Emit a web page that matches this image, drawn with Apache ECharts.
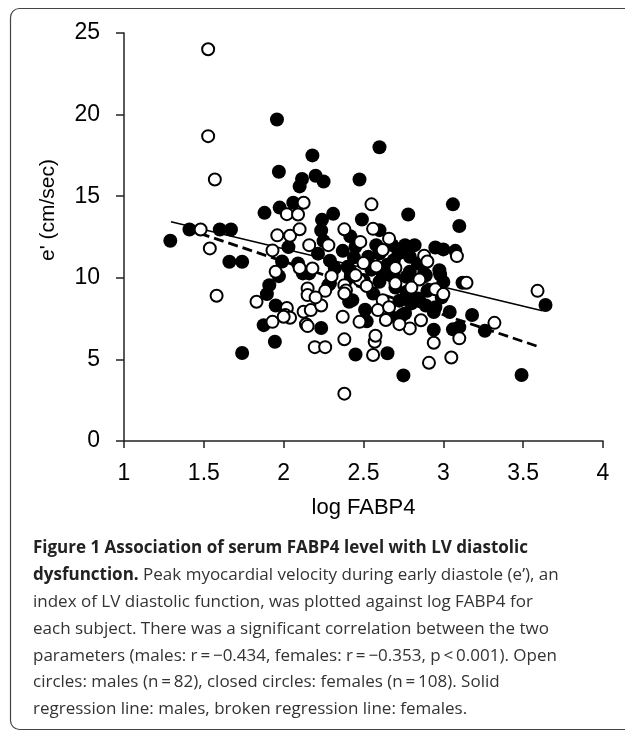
<!DOCTYPE html>
<html>
<head>
<meta charset="utf-8">
<script src="https://cdn.jsdelivr.net/npm/echarts@6/dist/echarts.min.js"></script>
<style>html,body{margin:0;padding:0;background:#fff}#c{width:625px;height:731px}</style>
</head>
<body>
<div id="c"></div>
<script>
// Tick labels
const xTicks = [1, 1.5, 2, 2.5, 3, 3.5, 4];
const yTicks = [0, 5, 10, 15, 20, 25];

// Open circles: males [log FABP4, e']
const openCircles = [
[1.527,24.0],[1.527,18.68],[1.569,16.02],[2.125,14.6],[2.02,13.9],[2.09,13.88],[1.48,12.96],[1.5375,11.8],[1.58,8.9],
[1.96,12.6],[2.04,12.58],[2.1,12.97],[2.16,12.0],[2.28,12.0],[2.38,12.97],[1.93,11.68],[2.18,10.57],[1.95,10.37],
[2.15,9.35],[2.15,8.94],[2.38,9.55],[2.39,9.22],[1.83,8.53],[2.02,8.15],[2.01,7.72],[2.04,7.55],[2.0,7.61],[2.125,7.92],
[2.17,8.02],[2.235,8.3],[2.37,7.61],[1.93,7.3],[2.14,7.15],[2.15,7.04],[2.195,5.75],[2.26,5.75],[2.38,6.23],[2.38,2.9],
[2.475,7.3],[2.55,14.5],[2.56,13.0],[2.66,12.4],[3.085,11.33],[2.88,11.35],[3.145,9.7],[2.38,9.04],[2.475,9.86],[2.62,8.63],
[2.7,9.66],[3.32,7.24],[3.1,6.29],[2.94,6.02],[3.05,5.12],[2.91,4.79],[2.56,5.27],[2.57,6.08],[2.575,6.45],[2.59,8.02],
[2.64,7.41],[2.79,6.9],[3.59,9.2],[2.725,7.16],
[2.45,10.16],[2.58,10.7],[2.5,10.9],[2.7,10.6],[2.85,9.9],[2.95,9.3],[2.3,10.1],[2.26,9.2],[2.52,9.5],[2.66,8.2],
[2.8,9.4],[2.86,7.4],[2.1,10.6],[2.62,11.7],[2.9,11.0],[3.0,9.0],[2.2,8.8],[2.48,12.2]
];

// Closed circles: females [log FABP4, e']
const closedCircles = [
[1.29,12.27],[1.41,12.96],[1.60,12.96],[1.67,12.96],[1.66,10.98],[1.74,10.98],[1.74,5.39],
[1.88,13.98],[1.975,14.3],[2.06,14.6],[1.958,19.7],[2.18,17.5],[1.97,16.5],[2.115,16.05],[2.2,16.25],[2.25,15.9],[2.1,15.6],
[2.24,13.55],[2.31,13.92],[2.235,12.9],[2.25,12.25],[2.417,12.55],[2.03,11.88],[2.215,11.48],[2.37,11.65],[2.44,11.25],
[1.99,11.0],[2.09,10.88],[2.29,11.05],[2.32,10.6],[1.97,10.1],[2.12,10.27],[2.16,10.27],[2.42,10.37],
[1.91,9.55],[1.895,9.0],[2.28,9.55],[1.95,8.3],[1.875,7.1],[2.235,6.92],[1.945,6.08],[2.45,5.3],[2.29,9.66],[2.43,8.63],
[2.6,18.0],[2.475,16.02],[3.06,14.5],[2.78,13.88],[3.1,13.17],[2.49,13.57],[2.6,12.92],
[2.58,12.0],[2.68,12.0],[2.76,12.0],[2.82,12.0],[2.95,11.86],[3.0,11.74],[3.075,11.65],[2.45,11.9],[2.53,11.29],[2.6,11.49],
[2.69,11.08],[2.79,11.29],[2.84,10.88],[2.975,10.47],[2.98,10.2],[3.0,9.75],[3.12,9.7],[2.89,10.16],[2.79,10.37],[2.77,10.06],
[2.69,10.06],[2.6,9.76],[2.56,9.04],[2.5,9.86],[2.42,10.06],[2.4,10.67],[2.77,9.14],[2.725,8.6],[2.8,8.43],[2.85,8.6],
[2.89,8.3],[2.95,8.2],[2.99,8.8],[3.04,7.9],[3.18,7.72],[3.26,6.75],[2.94,6.82],[3.06,6.84],[3.1,6.98],[2.75,4.02],[3.49,4.04],
[2.65,5.38],[2.51,8.04],[2.52,7.33],[2.67,7.65],[2.74,7.7],[3.64,8.33],[2.77,8.7],[2.84,8.73],[2.94,7.9],[2.76,7.82],
[2.67,10.16],[2.88,10.27],[2.41,8.53],[2.55,10.5],[2.65,10.8],[2.72,11.5],[2.62,10.3],[2.7,9.4],[2.9,9.2]
];

// Regression line endpoints
const maleLine = [[1.294,13.43],[3.62,7.98]];
const femaleLine = [[1.475,12.72],[3.6,5.77]];

const captionLines = [
  "index of LV diastolic function, was plotted against log FABP4 for",
  "each subject. There was a significant correlation between the two",
  "parameters (males: r\u2009=\u2009\u22120.434, females: r\u2009=\u2009\u22120.353, p\u2009<\u20090.001). Open",
  "circles: males (n\u2009=\u200982), closed circles: females (n\u2009=\u2009108). Solid",
  "regression line: males, broken regression line: females."
];

const chart = echarts.init(document.getElementById('c'), null, {renderer: 'canvas'});
const axisCol = '#222';
const capFont = '"Open Sans", sans-serif';
const capGraphics = [];
capGraphics.push({type:'text', left: 33, top: 540, style:{text:'Figure 1 Association of serum FABP4 level with LV diastolic', font:'bold 17px ' + capFont, fill:'#222'}});
capGraphics.push({type:'text', left: 33, top: 567, style:{
  text:'{b|dysfunction.} Peak myocardial velocity during early diastole (e\u2019), an',
  font:'17px ' + capFont, fill:'#333',
  rich:{b:{fontWeight:'bold', fontSize:17, fontFamily:'Open Sans', fill:'#222'}}
}});
captionLines.forEach((t, i) => {
  capGraphics.push({type:'text', left: 33, top: 594 + i * 26.6, style:{text:t, font:'17px ' + capFont, fill:'#333'}});
});

chart.setOption({
  animation: false,
  backgroundColor: '#fff',
  grid: {left: 124, right: 22, top: 33, bottom: 290, containLabel: false},
  xAxis: {
    type: 'value', min: 1, max: 4, interval: 0.5,
    name: 'log FABP4', nameLocation: 'middle', nameGap: 56,
    nameTextStyle: {fontFamily: 'Liberation Sans, Arial', fontSize: 22, color: '#000'},
    axisLine: {show: true, onZero: false, lineStyle: {color: axisCol, width: 1.5}},
    axisTick: {show: true, inside: false, length: 7, lineStyle: {color: axisCol, width: 1.5}},
    axisLabel: {margin: 21, fontFamily: 'Liberation Sans, Arial', fontSize: 23, color: '#000',
      formatter: v => xTicks.includes(v) ? String(v) : ''},
    splitLine: {show: false}
  },
  yAxis: {
    type: 'value', min: 0, max: 25, interval: 5,
    name: "e' (cm/sec)", nameLocation: 'middle', nameGap: 65, nameRotate: 90,
    nameTextStyle: {fontFamily: 'Liberation Sans, Arial', fontSize: 21, color: '#000', padding: [0, 0, 0, 54]},
    axisLine: {show: true, onZero: false, lineStyle: {color: axisCol, width: 1.5}},
    axisTick: {show: true, inside: false, length: 8, lineStyle: {color: axisCol, width: 1.5}},
    axisLabel: {margin: 24, fontFamily: 'Liberation Sans, Arial', fontSize: 23, color: '#000',
      formatter: v => yTicks.includes(v) ? String(v) : ''},
    splitLine: {show: false}
  },
  series: [
    {type: 'line', data: maleLine, symbol: 'none', z: 1,
     lineStyle: {color: '#000', width: 1.6, type: 'solid'}},
    {type: 'line', data: femaleLine, symbol: 'none', z: 1,
     lineStyle: {color: '#000', width: 2.8, type: [10, 5]}},
    {type: 'scatter', data: closedCircles, symbol: 'circle', symbolSize: 14, z: 3,
     itemStyle: {color: '#000', opacity: 1}},
    {type: 'scatter', data: openCircles, symbol: 'circle', symbolSize: 12, z: 4,
     itemStyle: {color: '#fff', borderColor: '#000', borderWidth: 2, opacity: 1}}
  ],
  graphic: [
    {type: 'rect', shape: {x: 10.5, y: 8.5, width: 800, height: 721, r: [9, 0, 0, 9]},
     style: {fill: 'none', stroke: '#444', lineWidth: 1.2}, z: -1},
    ...capGraphics
  ]
});
</script>
</body>
</html>
